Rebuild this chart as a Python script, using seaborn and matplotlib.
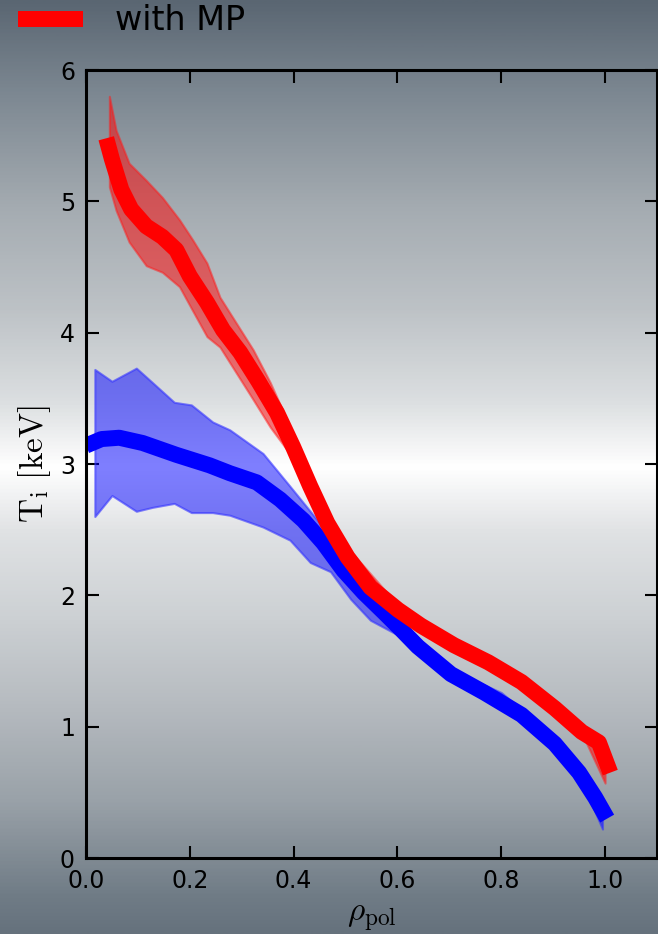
import numpy as np
import pandas as pd
import seaborn as sns
import matplotlib.pyplot as plt
from matplotlib.colors import LinearSegmentedColormap

# --- data ---
# red profile (with MP)
rho_red = [0.039, 0.050, 0.068, 0.087, 0.116, 0.147, 0.174, 0.200, 0.233, 0.264,
           0.297, 0.332, 0.368, 0.399, 0.432, 0.465, 0.504, 0.548, 0.601, 0.645,
           0.709, 0.775, 0.839, 0.903, 0.955, 0.988, 1.010]
ti_red = [5.48, 5.32, 5.09, 4.94, 4.81, 4.73, 4.63, 4.43, 4.23, 4.02,
          3.85, 3.63, 3.39, 3.13, 2.83, 2.55, 2.29, 2.06, 1.89, 1.77,
          1.62, 1.49, 1.34, 1.14, 0.96, 0.88, 0.65]

# blue profile
rho_blue = [0.0, 0.030, 0.064, 0.109, 0.174, 0.238, 0.277, 0.329, 0.374, 0.419,
            0.457, 0.496, 0.535, 0.574, 0.607, 0.639, 0.703, 0.767, 0.839, 0.903,
            0.950, 0.981, 1.004]
ti_blue = [3.14, 3.19, 3.20, 3.16, 3.07, 2.99, 2.93, 2.86, 2.73, 2.57,
           2.40, 2.19, 2.02, 1.87, 1.74, 1.61, 1.40, 1.26, 1.09, 0.87,
           0.65, 0.46, 0.30]

# uncertainty bands
rho_red_band = [0.045, 0.058, 0.083, 0.116, 0.147, 0.180, 0.205, 0.233, 0.258, 0.290,
                0.322, 0.355, 0.40, 0.45, 0.50, 0.60, 0.70, 0.80, 0.90, 0.96, 1.0]
red_upper = [5.80, 5.54, 5.29, 5.16, 5.03, 4.86, 4.71, 4.53, 4.27, 4.07,
             3.87, 3.62, 3.22, 2.76, 2.38, 1.93, 1.68, 1.48, 1.19, 0.99, 0.85]
red_lower = [5.11, 4.93, 4.69, 4.51, 4.46, 4.35, 4.17, 3.97, 3.89, 3.69,
             3.49, 3.28, 3.04, 2.60, 2.26, 1.85, 1.60, 1.40, 1.11, 0.91, 0.57]

rho_blue_band = [0.017, 0.05, 0.097, 0.128, 0.17, 0.203, 0.244, 0.277, 0.341, 0.393,
                 0.432, 0.471, 0.51, 0.548, 0.60, 0.70, 0.80, 0.90, 0.96, 0.995]
blue_upper = [3.72, 3.63, 3.73, 3.62, 3.47, 3.45, 3.32, 3.26, 3.08, 2.83,
              2.64, 2.45, 2.22, 1.98, 1.84, 1.44, 1.26, 0.93, 0.66, 0.42]
blue_lower = [2.60, 2.76, 2.64, 2.67, 2.70, 2.63, 2.63, 2.61, 2.52, 2.42,
              2.25, 2.18, 1.97, 1.81, 1.70, 1.36, 1.16, 0.83, 0.54, 0.22]

red = pd.DataFrame({'rho': rho_red, 'Ti': ti_red})
blue = pd.DataFrame({'rho': rho_blue, 'Ti': ti_blue})

sns.set_style("ticks")
plt.rcParams['mathtext.fontset'] = 'cm'
plt.rcParams['text.color'] = 'black'
plt.rcParams['axes.labelcolor'] = 'black'

fig = plt.figure(figsize=(6.58, 9.34), dpi=100)

# gradient background (dark - white - dark)
bg = fig.add_axes([0, 0, 1, 1])
grad = LinearSegmentedColormap.from_list('bg', [
    (0.0, '#5a6672'), (0.1, '#7d8892'), (0.22, '#a4abb1'), (0.33, '#bdc2c6'),
    (0.43, '#dcdfe1'), (0.50, '#ffffff'), (0.57, '#e0e2e4'), (0.66, '#cdd1d4'),
    (0.76, '#b5babf'), (0.86, '#99a1a8'), (0.96, '#707c86'), (1.0, '#66727d')])
bg.imshow(np.linspace(0, 1, 512).reshape(-1, 1), aspect='auto', cmap=grad,
          extent=[0, 1, 0, 1])
bg.set_axis_off()

ax = fig.add_axes([86/658, 76/934, 571/658, 788/934])
ax.set_facecolor('none')

ax.fill_between(rho_blue_band, blue_lower, blue_upper, facecolor=(0, 0, 1, 0.5),
                edgecolor=(0.2, 0.2, 1, 0.6), lw=1.5)
ax.fill_between(rho_red_band, red_lower, red_upper, facecolor=(1, 0, 0, 0.5),
                edgecolor=(1, 0.1, 0.1, 0.5), lw=1.5)

sns.lineplot(data=blue, x='rho', y='Ti', ax=ax, color='blue', lw=11.5, sort=False,
             solid_capstyle='butt', solid_joinstyle='round')
sns.lineplot(data=red, x='rho', y='Ti', ax=ax, color='red', lw=11.5, sort=False,
             solid_capstyle='butt', solid_joinstyle='round', label='with MP')

ax.set_xlim(0, 1.1)
ax.set_ylim(0, 6)
ax.set_xticks([0.0, 0.2, 0.4, 0.6, 0.8, 1.0])
ax.set_yticks([0, 1, 2, 3, 4, 5, 6])
ax.tick_params(direction='in', top=True, right=True, length=9, width=1.5,
               labelsize=17, pad=8, colors='black', labelcolor='black')
for s in ax.spines.values():
    s.set_linewidth(2.2)
    s.set_color('black')

ax.set_xlabel(r'$\rho_\mathrm{pol}$', fontsize=24, color='black')
ax.set_ylabel(r'$\mathrm{T_i\ [keV]}$', fontsize=24, color='black')
ax.xaxis.set_label_coords(0.5, -0.055)
ax.yaxis.set_label_coords(-0.058, 0.5)

handles, labels = ax.get_legend_handles_labels()
ax.get_legend().remove()
fig.legend(handles, labels, loc='center left', bbox_to_anchor=(18/658, 1 - 21/934),
           frameon=False, fontsize=24, handlelength=1.95, handletextpad=0.95,
           borderpad=0, borderaxespad=0, labelcolor='black')

fig.savefig('out.png', dpi=100)
